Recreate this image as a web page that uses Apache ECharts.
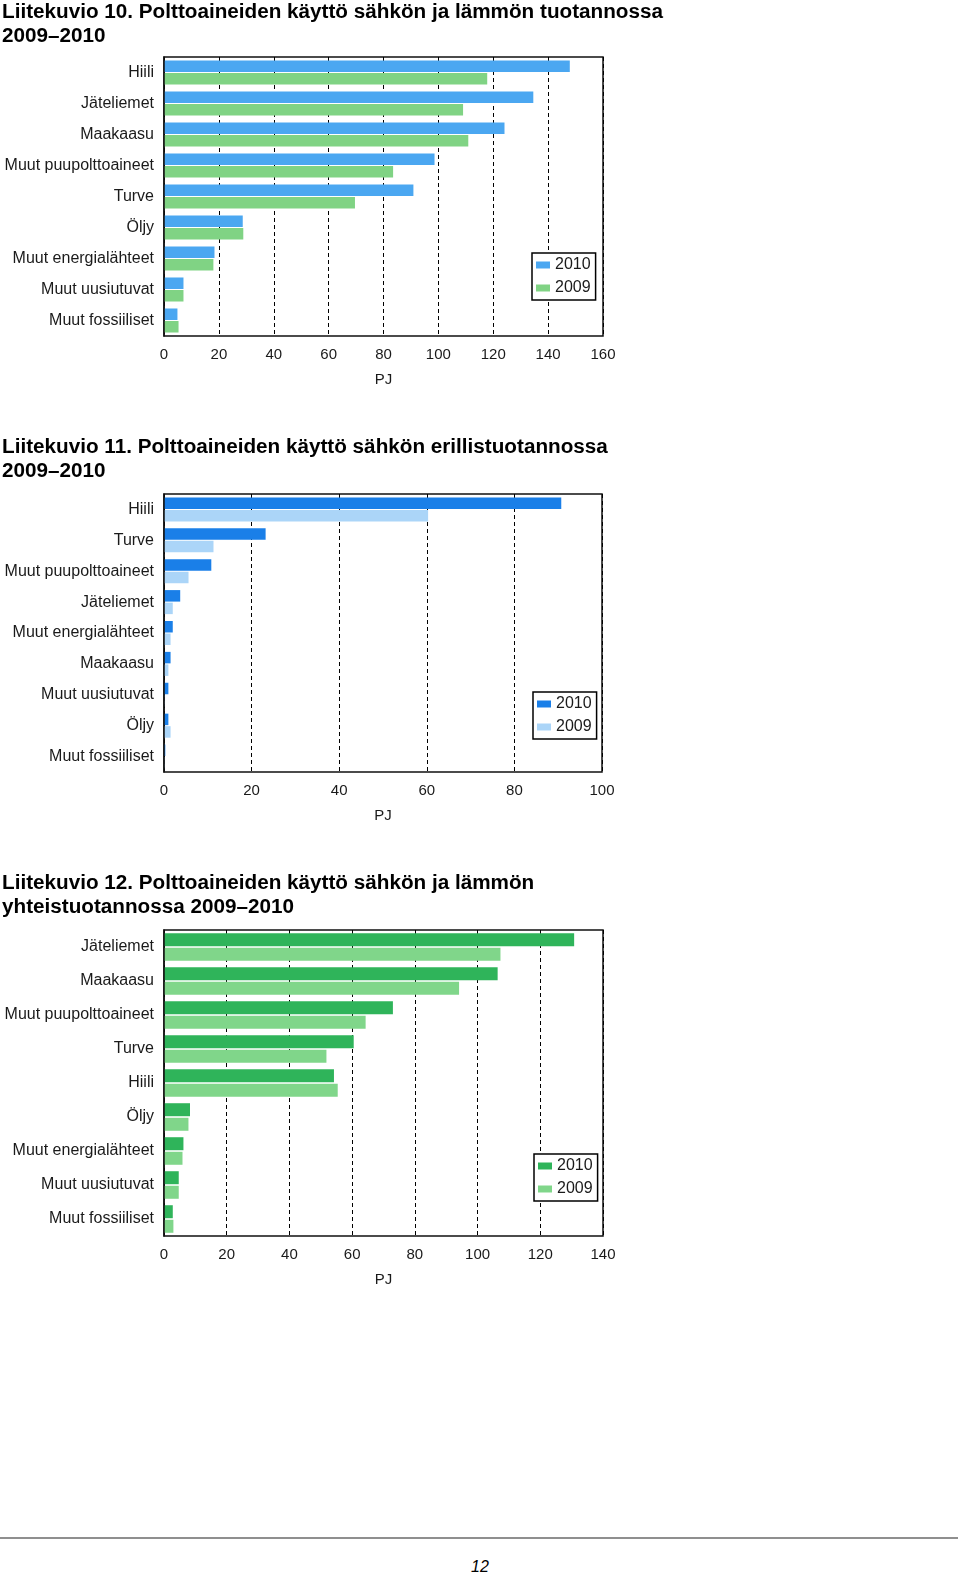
<!DOCTYPE html>
<html><head><meta charset="utf-8">
<script src="https://cdn.jsdelivr.net/npm/echarts@6/dist/echarts.min.js"></script>
<style>
html,body{margin:0;padding:0;background:#fff;}
body{width:960px;height:1572px;position:relative;overflow:hidden;}
.c{position:absolute;left:0;width:960px;}
#footline{position:absolute;left:0;top:1537px;width:958px;height:2px;background:#8f8f8f;}
#page{position:absolute;left:0;width:960px;top:1558px;line-height:18px;text-align:center;font:italic 16px 'Liberation Sans Narrow','Liberation Sans',sans-serif;color:#000;}
</style></head>
<body>
<div id="c1" class="c" style="top:0;height:420px"></div>
<div id="c2" class="c" style="top:435px;height:420px"></div>
<div id="c3" class="c" style="top:871px;height:450px"></div>
<div id="footline"></div>
<div id="page">12</div>
<script>
const years = ['2010', '2009'];
const xTicks = { c1: [0, 160, 20], c2: [0, 100, 20], c3: [0, 140, 20] };

const title1 = 'Liitekuvio 10. Polttoaineiden käyttö sähkön ja lämmön tuotannossa\n2009–2010';
const cats1 = ['Hiili', 'Jäteliemet', 'Maakaasu', 'Muut puupolttoaineet', 'Turve', 'Öljy', 'Muut energialähteet', 'Muut uusiutuvat', 'Muut fossiiliset'];
const v1_2010 = [147.9, 134.6, 124.1, 98.6, 90.9, 28.7, 18.4, 7.1, 4.9];
const v1_2009 = [117.8, 109.0, 110.9, 83.5, 69.6, 28.9, 18.0, 7.1, 5.3];

const title2 = 'Liitekuvio 11. Polttoaineiden käyttö sähkön erillistuotannossa\n2009–2010';
const cats2 = ['Hiili', 'Turve', 'Muut puupolttoaineet', 'Jäteliemet', 'Muut energialähteet', 'Maakaasu', 'Muut uusiutuvat', 'Öljy', 'Muut fossiiliset'];
const v2_2010 = [90.7, 23.2, 10.8, 3.7, 2.0, 1.5, 1.0, 1.0, 0.3];
const v2_2009 = [60.3, 11.3, 5.6, 2.0, 1.5, 1.0, 0.1, 1.5, 0.1];

const title3 = 'Liitekuvio 12. Polttoaineiden käyttö sähkön ja lämmön\nyhteistuotannossa 2009–2010';
const cats3 = ['Jäteliemet', 'Maakaasu', 'Muut puupolttoaineet', 'Turve', 'Hiili', 'Öljy', 'Muut energialähteet', 'Muut uusiutuvat', 'Muut fossiiliset'];
const v3_2010 = [130.8, 106.4, 73.0, 60.5, 54.2, 8.3, 6.2, 4.7, 2.8];
const v3_2009 = [107.3, 94.1, 64.3, 51.8, 55.4, 7.8, 5.9, 4.7, 3.0];

const FONT = "'Liberation Sans', Arial, sans-serif";
const TXT = '#1a1a1a';

function makeOption(cfg) {
  return {
    animation: false,
    backgroundColor: '#fff',
    title: {
      text: cfg.title, left: 2, top: 0, padding: 0,
      textStyle: { fontFamily: FONT, fontSize: 20.7, fontWeight: 'bold', color: '#000', lineHeight: 24.5 }
    },
    grid: {
      left: 164, top: cfg.gridTop, width: cfg.gridW, height: cfg.gridH,
      show: true, borderColor: '#111', borderWidth: 1.5, backgroundColor: 'transparent'
    },
    legend: {
      data: years, orient: 'vertical', left: cfg.legLeft, top: cfg.legTop,
      padding: [4, 5, 4, 4], itemWidth: 14, itemHeight: 7, itemGap: 7, icon: 'rect',
      borderColor: '#000', borderWidth: 1.5, backgroundColor: '#fff',
      textStyle: { fontFamily: FONT, fontSize: 16, lineHeight: 16, color: TXT }
    },
    xAxis: {
      type: 'value', min: cfg.ticks[0], max: cfg.ticks[1], interval: cfg.ticks[2],
      axisLine: { show: false }, axisTick: { show: false },
      splitLine: { show: true, lineStyle: { color: '#000', type: [4, 3], width: 1 } },
      axisLabel: { fontFamily: FONT, fontSize: 15, color: TXT, margin: 11 },
      name: 'PJ', nameLocation: 'middle', nameGap: 36,
      nameTextStyle: { fontFamily: FONT, fontSize: 15, color: TXT }
    },
    yAxis: {
      type: 'category', inverse: true, data: cfg.cats, z: 5,
      axisLine: { show: true, lineStyle: { color: '#111', width: 1.5 } }, axisTick: { show: false },
      axisLabel: { fontFamily: FONT, fontSize: 16, color: TXT, margin: 10, padding: [4, 0, 0, 0] }
    },
    series: [
      { name: years[0], type: 'bar', data: cfg.a, barWidth: cfg.bw, barGap: cfg.gap, itemStyle: { color: cfg.colA }, silent: true },
      { name: years[1], type: 'bar', data: cfg.b, barWidth: cfg.bw, barGap: cfg.gap, itemStyle: { color: cfg.colB }, silent: true }
    ]
  };
}

echarts.init(document.getElementById('c1')).setOption(makeOption({
  title: title1, cats: cats1, a: v1_2010, b: v1_2009, ticks: xTicks.c1,
  gridTop: 57, gridW: 439, gridH: 279, legLeft: 532, legTop: 253,
  bw: 11.5, gap: '9%', colA: '#4ba7f1', colB: '#80d384'
}));
echarts.init(document.getElementById('c2')).setOption(makeOption({
  title: title2, cats: cats2, a: v2_2010, b: v2_2009, ticks: xTicks.c2,
  gridTop: 59, gridW: 438, gridH: 278, legLeft: 533, legTop: 257,
  bw: 11.5, gap: '9%', colA: '#1a7fe8', colB: '#abd5f8'
}));
echarts.init(document.getElementById('c3')).setOption(makeOption({
  title: title3, cats: cats3, a: v3_2010, b: v3_2009, ticks: xTicks.c3,
  gridTop: 59, gridW: 439, gridH: 306, legLeft: 534, legTop: 283,
  bw: 13, gap: '12%', colA: '#2fb45a', colB: '#80d68a'
}));
</script>
</body></html>
